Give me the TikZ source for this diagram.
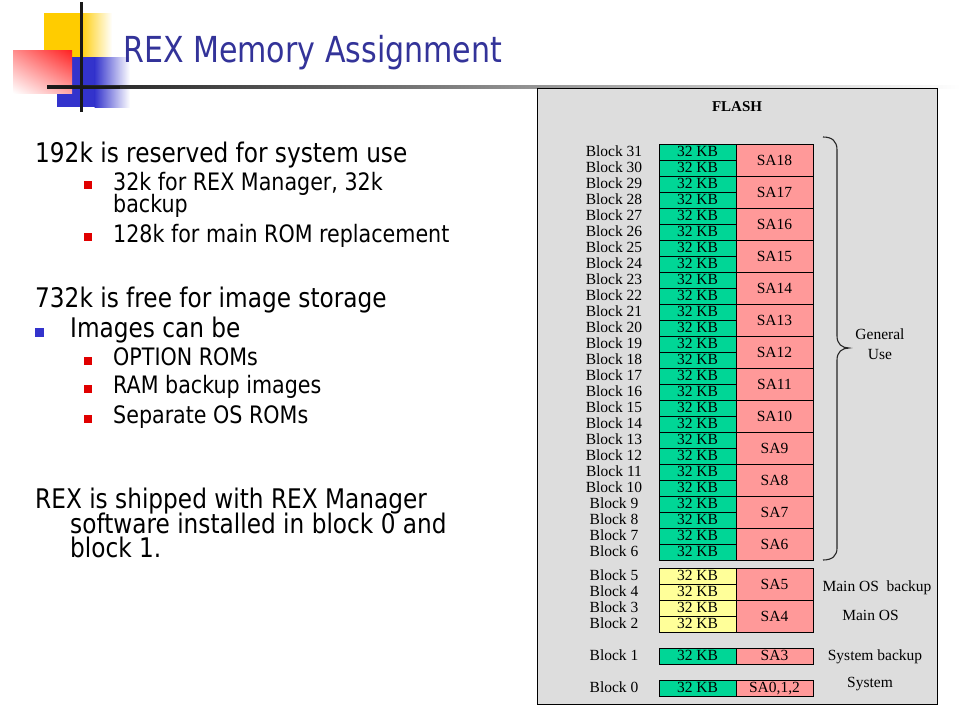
\documentclass[tikz,border=0pt]{standalone}
\usepackage{fontspec}
\usetikzlibrary{shadings}
\newfontfamily\tah[FakeStretch=0.86]{DejaVu Sans}
\newfontfamily\tahT[FakeStretch=0.84]{DejaVu Sans}
\newfontfamily\tms{Liberation Serif}
\definecolor{ttlblue}{HTML}{333399}
\definecolor{lgyellow}{HTML}{FFCC00}
\definecolor{lgblue}{HTML}{3333CC}
\definecolor{lgred}{HTML}{FF2020}
\definecolor{cgreen}{HTML}{00D696}
\definecolor{cred}{HTML}{FF9999}
\definecolor{cyellow}{HTML}{FFFF99}
\definecolor{panelgray}{HTML}{DDDDDD}
\definecolor{bulred}{HTML}{E00000}
\tikzset{
  lvlone/.style={anchor=base west, inner sep=0pt, font=\tah\fontsize{27}{27}\selectfont},
  lvltwo/.style={anchor=base west, inner sep=0pt, font=\tah\fontsize{24}{24}\selectfont},
  cell/.style={draw=black, line width=0.9pt},
  celltxt/.style={anchor=base, inner sep=0pt, font=\tms\fontsize{15.5}{15.5}\selectfont},
  blklbl/.style={anchor=base, inner sep=0pt, font=\tms\fontsize{15.5}{15.5}\selectfont},
  sidelbl/.style={anchor=base, inner sep=0pt, font=\tms\fontsize{15.5}{15.5}\selectfont},
  redbul/.style={fill=bulred, draw=none, minimum size=8pt, inner sep=0pt},
  bluebul/.style={fill=lgblue, draw=none, minimum size=9pt, inner sep=0pt},
}
\begin{document}
\begin{tikzpicture}[x=1pt,y=-1pt]
\useasboundingbox (0,0) rectangle (960,720);
\fill[white] (0,0) rectangle (960,720);
% logo
\fill[lgyellow] (44,13) rectangle (80,57);
\shade[left color=lgyellow, right color=white] (79.5,13) rectangle (112,57);
\fill[lgblue] (57,57) rectangle (95,107);
\shade[left color=lgblue, right color=white] (94.5,57) rectangle (130,107);
\shade[upper right=lgred, upper left=red!45, lower right=red!35, lower left=white] (13,50) rectangle (72,93);
\shade[left color=black!90, right color=white] (47,85.5) rectangle (960,88.5);
\fill[black!90] (47,85.5) rectangle (120,88.5);
\fill[black!90] (79.5,2) rectangle (82.5,112);
% title
\node[anchor=base west, inner sep=0pt, text=ttlblue, font=\tahT\fontsize{35.8}{35.8}\selectfont] (title) at (123,62) {REX Memory Assignment};
% left text
\node[lvlone] (t1) at (35,162) {192k is reserved for system use};
\node[redbul] (rb1) at (87.5,185) {};
\node[lvltwo] (s1a) at (113,190) {32k for REX Manager, 32k};
\node[lvltwo] (s1b) at (113,212) {backup};
\node[redbul] (rb2) at (87.5,237) {};
\node[lvltwo] (s2) at (113,242) {128k for main ROM replacement};
\node[lvlone] (t2) at (35,307) {732k is free for image storage};
\node[bluebul] (bb1) at (39.5,332) {};
\node[lvlone] (t3) at (70,337) {Images can be};
\node[redbul] (rb3) at (87.5,361) {};
\node[lvltwo] (c1) at (113,365) {OPTION ROMs};
\node[redbul] (rb4) at (87.5,389) {};
\node[lvltwo] (c2) at (113,393) {RAM backup images};
\node[redbul] (rb5) at (87.5,419) {};
\node[lvltwo] (c3) at (113,423) {Separate OS ROMs};
\node[lvlone] (t4a) at (35,508) {REX is shipped with REX Manager};
\node[lvlone] (t4b) at (70,533) {software installed in block 0 and};
\node[lvlone] (t4c) at (70,557) {block 1.};
% panel
\draw[fill=panelgray, line width=0.9pt] (537,88) rectangle (937,704);
\node[anchor=base, inner sep=0pt, font=\tms\bfseries\fontsize{15}{15}\selectfont] (flash) at (737,111) {FLASH};
% general blocks 31..6
\foreach \i in {31,...,6} {
  \pgfmathsetmacro{\yt}{144+(31-\i)*16}
  \draw[cell, fill=cgreen] (659,\yt) rectangle (736,\yt+16);
  \node[celltxt] (kb\i) at (697.5,\yt+12) {32 KB};
  \node[blklbl] (bl\i) at (614,\yt+12.7) {Block \i};
}
\foreach \k in {18,...,6} {
  \pgfmathsetmacro{\yt}{144+(18-\k)*32}
  \draw[cell, fill=cred] (736,\yt) rectangle (813,\yt+32);
  \node[celltxt] (sa\k) at (774.5,\yt+21) {SA\k};
}
% OS blocks 5..2
\foreach \i in {5,...,2} {
  \pgfmathsetmacro{\yt}{568+(5-\i)*16}
  \draw[cell, fill=cyellow] (659,\yt) rectangle (736,\yt+16);
  \node[celltxt] (kb\i) at (697.5,\yt+12) {32 KB};
  \node[blklbl] (bl\i) at (614,\yt+12.7) {Block \i};
}
\draw[cell, fill=cred] (736,568) rectangle (813,600);
\node[celltxt] (sa5) at (774.5,589) {SA5};
\draw[cell, fill=cred] (736,600) rectangle (813,632);
\node[celltxt] (sa4) at (774.5,621) {SA4};
% block 1
\draw[cell, fill=cgreen] (659,648) rectangle (736,664);
\draw[cell, fill=cred] (736,648) rectangle (813,664);
\node[celltxt] (kb1) at (697.5,660) {32 KB};
\node[celltxt] (sa3) at (774.5,660) {SA3};
\node[blklbl] (bl1) at (614,660.7) {Block 1};
% block 0
\draw[cell, fill=cgreen] (659,680) rectangle (736,696);
\draw[cell, fill=cred] (736,680) rectangle (813,696);
\node[celltxt] (kb0) at (697.5,692) {32 KB};
\node[celltxt] (sa0) at (774.5,692) {SA0,1,2};
\node[blklbl] (bl0) at (614,692.7) {Block 0};
% side labels
\draw[line width=1.1pt, black!85] (823,137) .. controls (832,137) and (837,141) .. (837,150) -- (837,336) .. controls (837,344) and (842,348) .. (849,348) .. controls (842,348) and (837,352) .. (837,360) -- (837,548) .. controls (837,556) and (832,560) .. (823,560);
\node[sidelbl] (gen1) at (880,339) {General};
\node[sidelbl] (gen2) at (880,359) {Use};
\node[sidelbl] (mob) at (877,591) {Main OS\ \ backup};
\node[sidelbl] (mos) at (870.5,620) {Main OS};
\node[sidelbl] (sysb) at (875,660.5) {System backup};
\node[sidelbl] (sys) at (870,687) {System};
\end{tikzpicture}
\end{document}
